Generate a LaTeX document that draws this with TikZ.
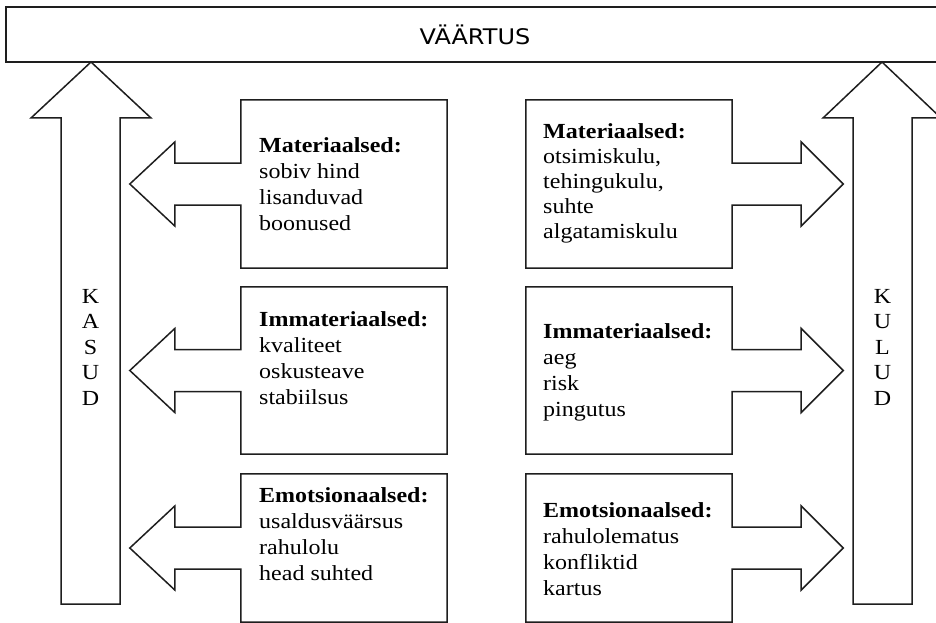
\documentclass[tikz,border=0pt]{standalone}
\usepackage{fontspec}
\setmainfont{Liberation Serif}[FakeStretch=1.116]
\newfontfamily\titlefont{DejaVu Sans}[FakeStretch=1.116]
\usetikzlibrary{calc}
\definecolor{linec}{HTML}{1E1E1E}
\tikzset{
  outline/.style={draw=linec, line width=1.5pt, line join=miter, fill=white},
  boxnode/.style={rectangle, draw=none, inner sep=0pt, minimum width=206pt},
  boxtext/.style={anchor=north west, inner sep=0pt, align=left, text=black,
                  font=\fontsize{21.5pt}{26pt}\selectfont},
  vertext/.style={anchor=north, inner sep=0pt, align=center, text=black,
                  font=\fontsize{21.5pt}{25.5pt}\selectfont}
}
\newcommand\ArrowBoxL[1]{%
  \draw[outline] (#1.north west) -- (#1.north east) -- (#1.south east) -- (#1.south west)
    -- ($(#1.west)+(0,21)$) -- ++(-66,0) -- ++(0,21) -- ($(#1.west)+(-111,0)$)
    -- ($(#1.west)+(-66,-42)$) -- ++(0,21) -- ($(#1.west)+(0,-21)$) -- cycle;}
\newcommand\ArrowBoxR[1]{%
  \draw[outline] (#1.north east) -- (#1.north west) -- (#1.south west) -- (#1.south east)
    -- ($(#1.east)+(0,21)$) -- ++(69,0) -- ++(0,21) -- ($(#1.east)+(111,0)$)
    -- ($(#1.east)+(69,-42)$) -- ++(0,21) -- ($(#1.east)+(0,-21)$) -- cycle;}
\begin{document}
\begin{tikzpicture}[x=1pt,y=-1pt]
\useasboundingbox (0,0) rectangle (936,623);
\clip (0,0) rectangle (936,623);

% top value bar
\node[boxnode, minimum width=939pt, minimum height=55pt] (val) at (475.5,34.5) {};
\draw[outline] (val.south west) rectangle (val.north east);
\node[anchor=base, inner sep=0pt, font=\titlefont\fontsize{21.5pt}{26pt}\selectfont] (valtxt) at (475,45) {VÄÄRTUS};

% big arrows
\coordinate (ktip) at (91,62);
\coordinate (ltip) at (882,62);
\draw[outline] (ktip) -- (151,118) -- (120,118) -- (120,604) -- (61,604) -- (61,118) -- (31,118) -- cycle;
\draw[outline] (ltip) -- (941,118) -- (912,118) -- (912,604) -- (853,604) -- (853,118) -- (823,118) -- cycle;
\node[vertext] (kasud) at (90.5,289) {K\\A\\S\\U\\D};
\node[vertext] (kulud) at (882.5,289) {K\\U\\L\\U\\D};

% boxes
\node[boxnode, minimum height=168pt] (L1) at (344,184) {};
\node[boxnode, minimum height=167pt] (L2) at (344,370.5) {};
\node[boxnode, minimum height=148pt] (L3) at (344,548) {};
\node[boxnode, minimum height=168pt] (R1) at (629,184) {};
\node[boxnode, minimum height=167pt] (R2) at (629,370.5) {};
\node[boxnode, minimum height=148pt] (R3) at (629,548) {};

\ArrowBoxL{L1}
\ArrowBoxL{L2}
\ArrowBoxL{L3}
\ArrowBoxR{R1}
\ArrowBoxR{R2}
\ArrowBoxR{R3}

\node[boxtext] (t1) at (259,137.3) {\textbf{Materiaalsed:}\\sobiv hind\\lisanduvad\\boonused};
\node[boxtext] (t2) at (259,311.3) {\textbf{Immateriaalsed:}\\kvaliteet\\oskusteave\\stabiilsus};
\node[boxtext] (t3) at (259,487.3) {\textbf{Emotsionaalsed:}\\usaldusväärsus\\rahulolu\\head suhted};
\node[boxtext, font=\fontsize{21.5pt}{25pt}\selectfont] (t4) at (543,123.3) {\textbf{Materiaalsed:}\\otsimiskulu,\\tehingukulu,\\suhte\\algatamiskulu};
\node[boxtext] (t5) at (543,323.3) {\textbf{Immateriaalsed:}\\aeg\\risk\\pingutus};
\node[boxtext] (t6) at (543,502.3) {\textbf{Emotsionaalsed:}\\rahulolematus\\konfliktid\\kartus};
\end{tikzpicture}
\end{document}
